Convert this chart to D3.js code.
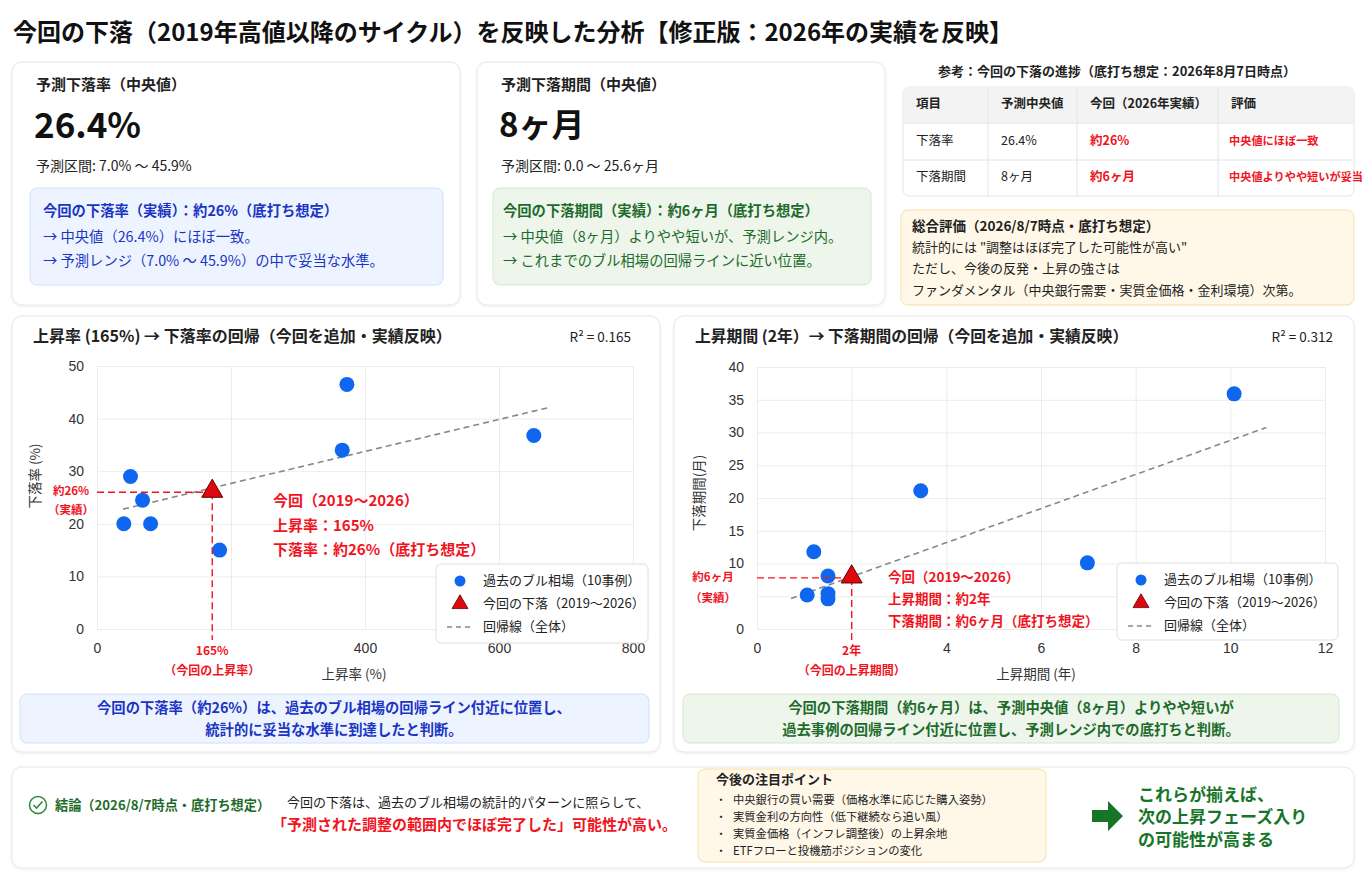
<!DOCTYPE html>
<html>
<head>
<meta charset="utf-8">
<script src="https://cdn.jsdelivr.net/npm/d3@7"></script>
<style>
  body { margin: 0; background: #fff; }
  svg { display: block; font-family: "Noto Sans CJK JP", "Noto Sans", sans-serif; }
  .tick text { font-size: 14px; fill: #333; }
</style>
</head>
<body>
<svg id="chart" width="1366" height="884"></svg>
<script>
// --- data ---
// chart 1: rise rate (%) vs fall rate (%)
const riseRate = [50, 68, 40, 80, 183, 373, 366, 652];
const fallRate = [29, 24.5, 20, 20, 15, 46.5, 34, 36.8];
const currentRise = [172, 26];          // 今回 (drawn position)
const regRate = { x: [39, 673], slope: 0.0304, intercept: 21.6 };
const rateXTicks = [0, 200, 400, 600, 800];
const rateYTicks = [0, 10, 20, 30, 40, 50];

// chart 2: rise period (years) vs fall period (months)
const riseYears = [1.2, 1.5, 1.06, 1.5, 1.5, 3.46, 6.98, 10.08];
const fallMonths = [11.8, 8.1, 5.2, 5.4, 4.6, 21.1, 10.1, 35.9];
const currentPeriod = [2.0, 7.8];
const regPeriod = { x: [0.72, 10.76], slope: 2.6, intercept: 2.79 };
const periodXTicks = [0, 2, 4, 6, 8, 10, 12];
const periodYTicks = [0, 5, 10, 15, 20, 25, 30, 35, 40];

const tableHead = ["項目", "予測中央値", "今回（2026年実績）", "評価"];
const tableRows = [
  ["下落率", "26.4%", "約26%", "中央値にほぼ一致"],
  ["下落期間", "8ヶ月", "約6ヶ月", "中央値よりやや短いが妥当"]
];
const watchPoints = [
  "中央銀行の買い需要（価格水準に応じた購入姿勢）",
  "実質金利の方向性（低下継続なら追い風）",
  "実質金価格（インフレ調整後）の上昇余地",
  "ETFフローと投機筋ポジションの変化"
];

const RED = "#f0141e", BLUE = "#0f67f0", DBLUE = "#1a35c4", DGREEN = "#1d6b2b";

const svg = d3.select("#chart");

// drop shadow for cards
const defs = svg.append("defs");
const f = defs.append("filter").attr("id", "sh").attr("x", "-5%").attr("y", "-5%").attr("width", "110%").attr("height", "110%");
f.append("feDropShadow").attr("dx", 0).attr("dy", 1).attr("stdDeviation", 1.5).attr("flood-color", "#000").attr("flood-opacity", 0.08);

function card(x, y, w, h) {
  svg.append("rect").attr("x", x).attr("y", y).attr("width", w).attr("height", h)
    .attr("rx", 10).attr("fill", "#fff").attr("stroke", "#e7e7e7").attr("filter", "url(#sh)");
}
function box(x, y, w, h, fill, stroke) {
  svg.append("rect").attr("x", x).attr("y", y).attr("width", w).attr("height", h)
    .attr("rx", 7).attr("fill", fill).attr("stroke", stroke);
}
function txt(x, y, s, opts) {
  opts = opts || {};
  return svg.append("text").attr("x", x).attr("y", y).text(s)
    .attr("font-size", opts.size || 13)
    .attr("font-weight", opts.bold ? "bold" : "normal")
    .attr("fill", opts.color || "#222")
    .attr("text-anchor", opts.anchor || "start")
    .attr("dominant-baseline", "middle");
}

// title
txt(13, 34, "今回の下落（2019年高値以降のサイクル）を反映した分析【修正版：2026年の実績を反映】", { size: 24, bold: true, color: "#111" });

// --- card 1 : fall rate
card(12, 62, 448, 243);
txt(36, 86, "予測下落率（中央値）", { size: 15, bold: true });
txt(34, 128, "26.4%", { size: 35, bold: true, color: "#111" });
txt(36, 167, "予測区間: 7.0% 〜 45.9%", { size: 14 });
box(30, 188, 413, 97, "#eef4ff", "#cfe0fb");
txt(43, 212, "今回の下落率（実績）：約26%（底打ち想定）", { size: 14.3, bold: true, color: DBLUE });
txt(43, 238, "→ 中央値（26.4%）にほぼ一致。", { size: 14.3, color: DBLUE });
txt(43, 262, "→ 予測レンジ（7.0% 〜 45.9%）の中で妥当な水準。", { size: 14.3, color: DBLUE });

// --- card 2 : fall period
card(477, 62, 408, 243);
txt(501, 86, "予測下落期間（中央値）", { size: 15, bold: true });
txt(499, 128, "8ヶ月", { size: 33, bold: true, color: "#111" });
txt(501, 167, "予測区間: 0.0 〜 25.6ヶ月", { size: 14 });
box(493, 188, 378, 97, "#eef6ec", "#d3e8cf");
txt(503, 212, "今回の下落期間（実績）：約6ヶ月（底打ち想定）", { size: 14.3, bold: true, color: DGREEN });
txt(503, 238, "→ 中央値（8ヶ月）よりやや短いが、予測レンジ内。", { size: 14.3, color: DGREEN });
txt(503, 262, "→ これまでのブル相場の回帰ラインに近い位置。", { size: 14.3, color: DGREEN });

// --- reference table
txt(1117, 72, "参考：今回の下落の進捗（底打ち想定：2026年8月7日時点）", { size: 13, bold: true, anchor: "middle" });
const colX = [903, 988, 1077, 1218, 1354];
const rowY = [87, 123, 160, 196];
svg.append("rect").attr("x", 903).attr("y", 87).attr("width", 451).attr("height", 109)
  .attr("rx", 6).attr("fill", "#fff").attr("stroke", "#e4e4e4");
svg.append("path").attr("d", `M903,123 V93 a6,6 0 0 1 6,-6 H1348 a6,6 0 0 1 6,6 V123 Z`)
  .attr("fill", "#f3f3f3");
rowY.slice(1, 3).forEach(y => svg.append("line").attr("x1", 903).attr("x2", 1354).attr("y1", y).attr("y2", y).attr("stroke", "#e4e4e4"));
colX.slice(1, 4).forEach(x => svg.append("line").attr("x1", x).attr("x2", x).attr("y1", 87).attr("y2", 196).attr("stroke", "#e4e4e4"));
tableHead.forEach((h, i) => txt(colX[i] + 13, 105, h, { size: 12.5, bold: true }));
tableRows.forEach((r, j) => r.forEach((c, i) =>
  txt(colX[i] + (i == 3 ? 11 : 13), (rowY[j + 1] + rowY[j + 2]) / 2, c,
    { size: i == 3 ? 11.2 : 12.5, bold: i >= 2, color: i >= 2 ? RED : "#222" })));

// --- overall evaluation
box(901, 210, 453, 95, "#fff8e9", "#f8dea6");
txt(912, 227, "総合評価（2026/8/7時点・底打ち想定）", { size: 13.5, bold: true });
txt(912, 248, "統計的には \"調整はほぼ完了した可能性が高い\"", { size: 13 });
txt(912, 269, "ただし、今後の反発・上昇の強さは", { size: 13 });
txt(912, 291, "ファンダメンタル（中央銀行需要・実質金価格・金利環境）次第。", { size: 13 });

// --- scatter charts
function scatter(cfg) {
  const x = d3.scaleLinear().domain(cfg.xDomain).range(cfg.xRange);
  const y = d3.scaleLinear().domain(cfg.yDomain).range(cfg.yRange);
  const g = svg.append("g");
  const [x0, x1] = cfg.xRange, [y1, y0] = cfg.yRange;

  // grid + tick labels via axes
  g.append("g").attr("transform", `translate(0,${y1})`)
    .call(d3.axisBottom(x).tickValues(cfg.xTicks).tickSize(-(y1 - y0)).tickPadding(14)
      .tickFormat(d => cfg.xHide.includes(d) ? "" : d))
    .call(a => a.select(".domain").remove())
    .call(a => a.selectAll("line").attr("stroke", "#ececec"));
  g.append("g").attr("transform", `translate(${x0},0)`)
    .call(d3.axisLeft(y).tickValues(cfg.yTicks).tickSize(-(x1 - x0)).tickPadding(13)
      .tickFormat(d => cfg.yHide.includes(d) ? "" : d))
    .call(a => a.select(".domain").remove())
    .call(a => a.selectAll("line").attr("stroke", "#ececec"));
  g.selectAll(".tick text").attr("font-family", null);

  // axis titles
  txt(cfg.xLabelX, y1 + 46, cfg.xLabel, { size: 13.5, anchor: "middle", color: "#333" });
  g.append("text").attr("transform", `translate(${cfg.yLabelX},${cfg.yLabelY}) rotate(-90)`)
    .attr("text-anchor", "middle").attr("dominant-baseline", "middle")
    .attr("font-size", 13.5).attr("fill", "#333").text(cfg.yLabel);

  // regression
  const reg = cfg.reg;
  g.append("line")
    .attr("x1", x(reg.x[0])).attr("y1", y(reg.intercept + reg.slope * reg.x[0]))
    .attr("x2", x(reg.x[1])).attr("y2", y(reg.intercept + reg.slope * reg.x[1]))
    .attr("stroke", "#888").attr("stroke-width", 1.6).attr("stroke-dasharray", "6,4");

  // points
  g.selectAll("circle.pt").data(d3.zip(cfg.xs, cfg.ys)).join("circle")
    .attr("class", "pt").attr("cx", d => x(d[0])).attr("cy", d => y(d[1]))
    .attr("r", 7.5).attr("fill", BLUE);

  // current cycle
  const cx = x(cfg.cur[0]), cy = y(cfg.cur[1]);
  g.append("line").attr("x1", x0).attr("x2", cx).attr("y1", cy).attr("y2", cy)
    .attr("stroke", RED).attr("stroke-width", 1.4).attr("stroke-dasharray", "7,4");
  g.append("line").attr("x1", cx).attr("x2", cx).attr("y1", cy).attr("y2", y1 + 11)
    .attr("stroke", RED).attr("stroke-width", 1.4).attr("stroke-dasharray", "7,4");
  g.append("path").attr("d", d3.symbol(d3.symbolTriangle, 190)())
    .attr("transform", `translate(${cx},${cy - 1})`)
    .attr("fill", "#e0080f").attr("stroke", "#5a0000").attr("stroke-width", 1);

  txt(cfg.yNoteX, cy, cfg.yNote[0], { size: 11.5, bold: true, color: RED, anchor: "middle" });
  txt(cfg.yNoteX, cy + cfg.yNoteGap, cfg.yNote[1], { size: 11.5, bold: true, color: RED, anchor: "middle" });
  txt(cx, y1 + 23, cfg.xNote[0], { size: 12, bold: true, color: RED, anchor: "middle" });
  txt(cx, y1 + 43, cfg.xNote[1], { size: 12, bold: true, color: RED, anchor: "middle" });
  cfg.note.forEach((s, i) => txt(cfg.noteX, cfg.noteY + i * cfg.noteGap, s, { size: cfg.noteSize, bold: true, color: RED }));

  // legend
  const L = cfg.legend;
  svg.append("rect").attr("x", L.x).attr("y", L.y).attr("width", L.w).attr("height", L.h)
    .attr("rx", 5).attr("fill", "rgba(255,255,255,0.95)").attr("stroke", "#dedede");
  const ly = [L.y + 17, L.y + 40, L.y + 63];
  svg.append("circle").attr("cx", L.x + 24).attr("cy", ly[0]).attr("r", 5.5).attr("fill", BLUE);
  svg.append("path").attr("d", d3.symbol(d3.symbolTriangle, 110)())
    .attr("transform", `translate(${L.x + 24},${ly[1]})`)
    .attr("fill", "#e0080f").attr("stroke", "#5a0000").attr("stroke-width", 0.8);
  svg.append("line").attr("x1", L.x + 11).attr("x2", L.x + 38).attr("y1", ly[2]).attr("y2", ly[2])
    .attr("stroke", "#888").attr("stroke-width", 1.4).attr("stroke-dasharray", "5,4");
  ["過去のブル相場（10事例）", "今回の下落（2019〜2026）", "回帰線（全体）"].forEach((s, i) =>
    txt(L.x + 47, ly[i], s, { size: 13, color: "#222" }));
}

// chart 1 card
card(12, 316, 648, 436);
txt(33, 338, "上昇率 (165%) → 下落率の回帰（今回を追加・実績反映）", { size: 16, bold: true });
txt(631, 338, "R² = 0.165", { size: 13.5, anchor: "end" });
scatter({
  xDomain: [0, 800], xRange: [97, 633], yDomain: [0, 50], yRange: [629, 366],
  xTicks: rateXTicks, yTicks: rateYTicks, xHide: [200], yHide: [],
  xLabel: "上昇率 (%)", xLabelX: 354, yLabel: "下落率 (%)", yLabelX: 36, yLabelY: 476,
  xs: riseRate, ys: fallRate, cur: currentRise, reg: regRate,
  yNoteX: 71, yNoteGap: 19, yNote: ["約26%", "（実績）"], xNote: ["165%", "（今回の上昇率）"],
  note: ["今回（2019〜2026）", "上昇率：165%", "下落率：約26%（底打ち想定）"],
  noteX: 273, noteY: 502, noteGap: 24.5, noteSize: 15,
  legend: { x: 436, y: 564, w: 212, h: 79 }
});
box(20, 694, 629, 49, "#eef4ff", "#cfe0fb");
txt(334, 709, "今回の下落率（約26%）は、過去のブル相場の回帰ライン付近に位置し、", { size: 14.3, bold: true, color: DBLUE, anchor: "middle" });
txt(334, 731, "統計的に妥当な水準に到達したと判断。", { size: 14.3, bold: true, color: DBLUE, anchor: "middle" });

// chart 2 card
card(674, 316, 680, 436);
txt(695, 338, "上昇期間 (2年）→ 下落期間の回帰（今回を追加・実績反映）", { size: 15.8, bold: true });
txt(1333, 338, "R² = 0.312", { size: 13.5, anchor: "end" });
scatter({
  xDomain: [0, 12], xRange: [757, 1325], yDomain: [0, 40], yRange: [629, 367],
  xTicks: periodXTicks, yTicks: periodYTicks, xHide: [2], yHide: [5],
  xLabel: "上昇期間 (年)", xLabelX: 1036, yLabel: "下落期間(月)", yLabelX: 700, yLabelY: 493,
  xs: riseYears, ys: fallMonths, cur: currentPeriod, reg: regPeriod,
  yNoteX: 713, yNoteGap: 21, yNote: ["約6ヶ月", "（実績）"], xNote: ["2年", "（今回の上昇期間）"],
  note: ["今回（2019〜2026）", "上昇期間：約2年", "下落期間：約6ヶ月（底打ち想定）"],
  noteX: 888, noteY: 578, noteGap: 22, noteSize: 13.5,
  legend: { x: 1117, y: 563, w: 221, h: 77 }
});
box(683, 694, 656, 49, "#eef6ec", "#d3e8cf");
txt(1011, 709, "今回の下落期間（約6ヶ月）は、予測中央値（8ヶ月）よりやや短いが", { size: 14.3, bold: true, color: DGREEN, anchor: "middle" });
txt(1011, 731, "過去事例の回帰ライン付近に位置し、予測レンジ内での底打ちと判断。", { size: 14.3, bold: true, color: DGREEN, anchor: "middle" });

// --- conclusion card
card(12, 767, 1342, 101);
svg.append("circle").attr("cx", 38).attr("cy", 805).attr("r", 8.5).attr("fill", "none").attr("stroke", "#2a8a3a").attr("stroke-width", 1.5);
svg.append("path").attr("d", "M33.5,805 l3,3 l6,-6.5").attr("fill", "none").attr("stroke", "#2a8a3a").attr("stroke-width", 1.6);
txt(55, 806, "結論（2026/8/7時点・底打ち想定）", { size: 13.2, bold: true, color: DGREEN });
txt(287, 803, "今回の下落は、過去のブル相場の統計的パターンに照らして、", { size: 13 });
txt(272, 826, "「予測された調整の範囲内でほぼ完了した」可能性が高い。", { size: 15, bold: true, color: RED });

box(698, 769, 348, 93, "#fff8e9", "#f8dea6");
txt(716, 780, "今後の注目ポイント", { size: 13, bold: true });
watchPoints.forEach((s, i) => {
  txt(721, 801 + i * 17, "・", { size: 11, anchor: "middle" });
  txt(733, 801 + i * 17, s, { size: 11.3 });
});
svg.append("path").attr("d", "M1092,810 h16 v-9 l15,15 l-15,15 v-9 h-16 Z").attr("fill", "#17752a");
["これらが揃えば、", "次の上昇フェーズ入り", "の可能性が高まる"].forEach((s, i) =>
  txt(1138, 796 + i * 22.5, s, { size: 17, bold: true, color: "#17752a" }));
</script>
</body>
</html>
